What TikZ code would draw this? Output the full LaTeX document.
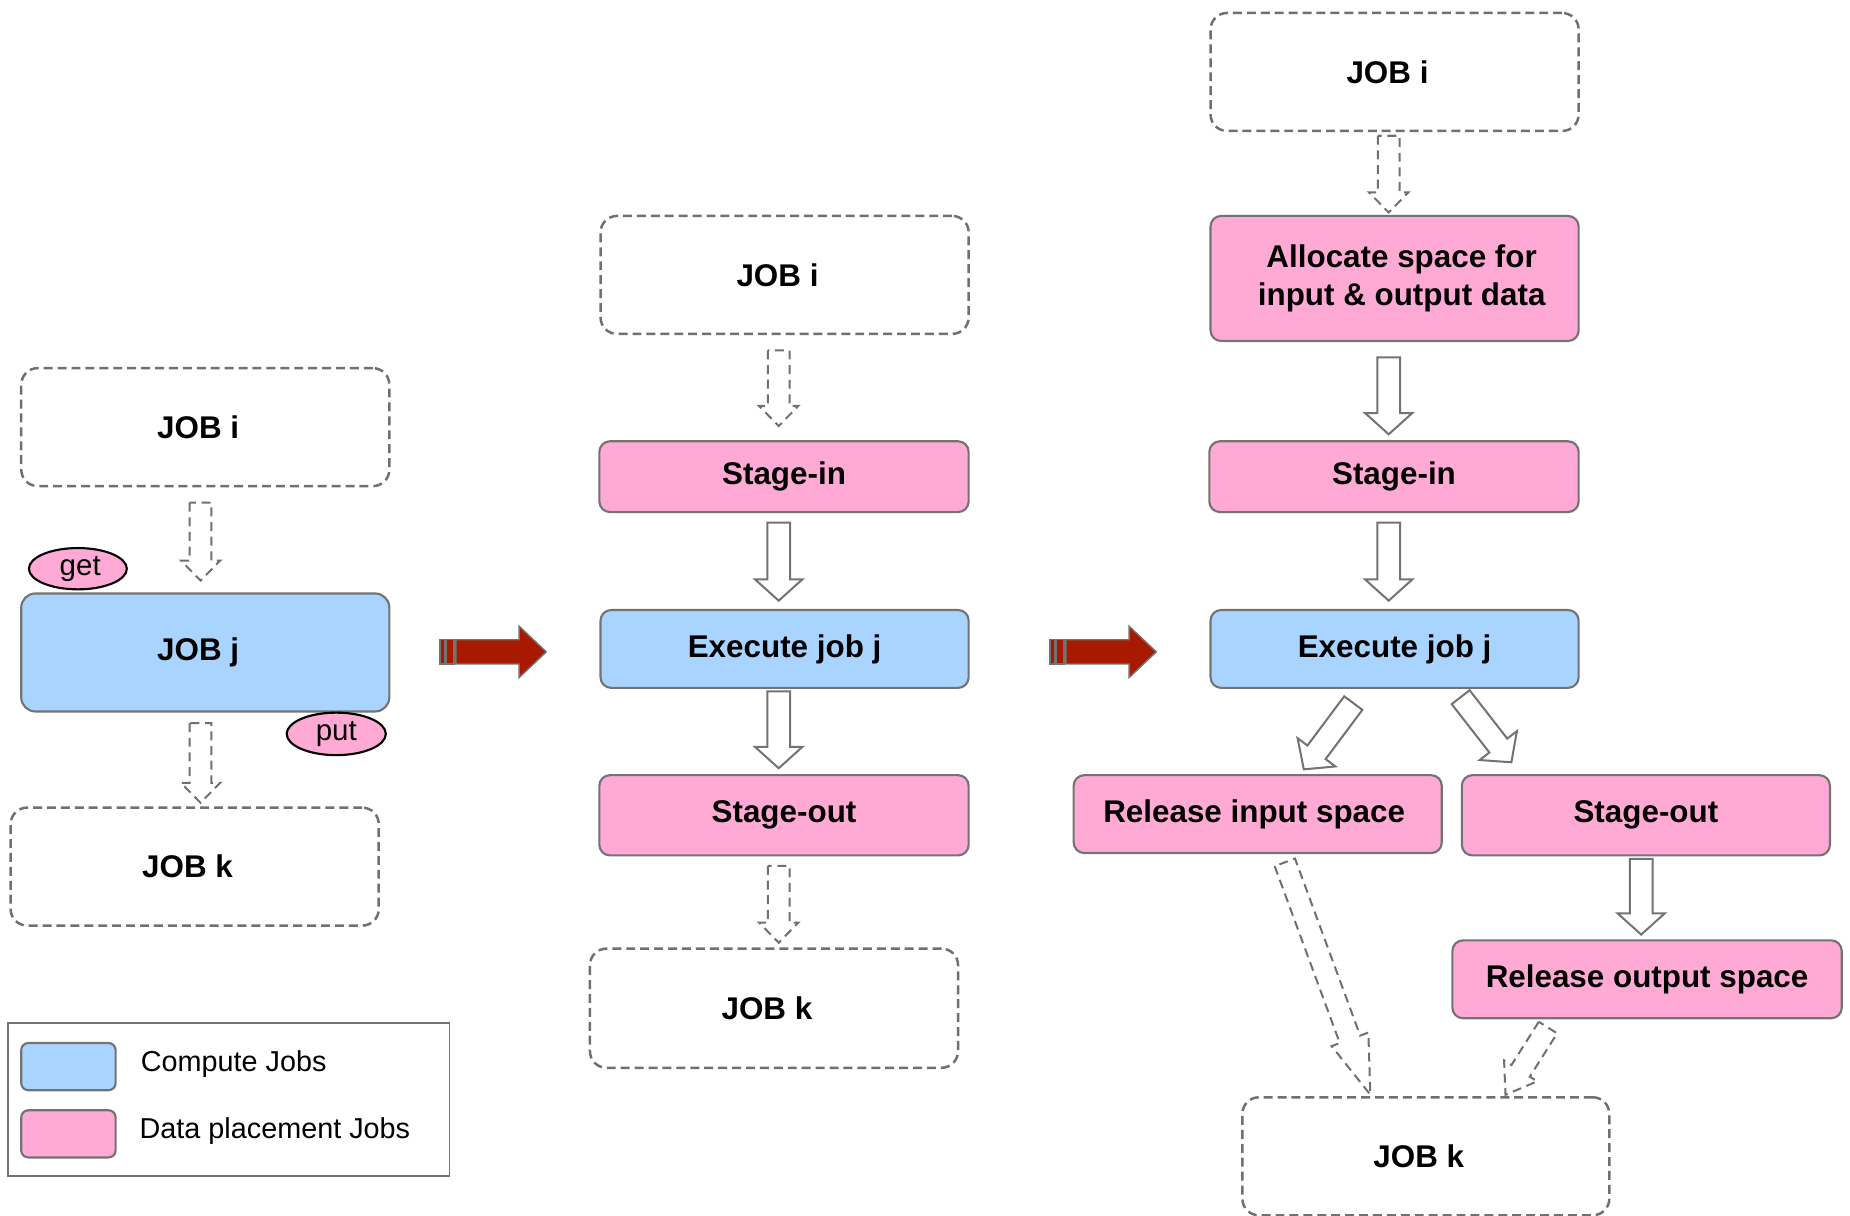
\documentclass[tikz,border=0pt]{standalone}
\usepackage{fontspec}
\setmainfont{Liberation Sans}
\usetikzlibrary{calc,shapes.geometric}

\definecolor{cblue}{HTML}{A9D4FF}
\definecolor{dpink}{HTML}{FFAAD5}
\definecolor{bgray}{HTML}{737373}
\definecolor{dgray}{HTML}{707070}
\definecolor{arrowred}{HTML}{A81A00}

\newcommand\boxfont{\fontsize{13.3pt}{16pt}\selectfont\bfseries}
\newcommand\legfont{\fontsize{12.2pt}{14pt}\selectfont}
\newcommand\tagfont{\fontsize{12.5pt}{14pt}\selectfont}

% block arrow: #1 style, #2 tail, #3 tip, #4 half shaft, #5 half head, #6 head length
\newcommand\blockarrow[6]{%
  \draw[#1] let \p1=#2, \p2=#3,
      \n1={atan2(\y2-\y1,\x2-\x1)}, \n2={veclen(\x2-\x1,\y2-\y1)} in
    [shift={(\p1)}, rotate=\n1]
    (0pt,-#4) -- ({\n2-#6},-#4) -- ({\n2-#6},-#5) -- (\n2,0pt)
    -- ({\n2-#6},#5) -- ({\n2-#6},#4) -- (0pt,#4) -- cycle;
}
\newcommand\dasharrow[3][8.5pt]{\blockarrow{darrow}{#2}{#3}{4.6pt}{8.3pt}{#1}}
\newcommand\hollowarrow[2]{\blockarrow{harrow}{#1}{#2}{4.8pt}{10pt}{9pt}}

\tikzset{
  every node/.style={inner sep=0pt, text=black},
  jobbox/.style={draw=dgray, dash pattern=on 3.8pt off 2.1pt, line width=1.05pt,
    rounded corners=7pt, minimum width=156pt, minimum height=50pt, font=\boxfont,
    execute at begin node={\kern-6pt}},
  computebox/.style={draw=bgray, fill=cblue, line width=0.9pt,
    rounded corners=4.5pt, font=\boxfont},
  databox/.style={draw=bgray, fill=dpink, line width=0.9pt,
    rounded corners=4.5pt, font=\boxfont, align=center},
  tagoval/.style={ellipse, draw=black, fill=dpink, line width=0.9pt, font=\tagfont},
  darrow/.style={draw=dgray, dash pattern=on 3.8pt off 2.4pt, line width=0.85pt, fill=white},
  harrow/.style={draw=bgray, line width=0.85pt, fill=white},
  swatch/.style={draw=bgray, line width=0.9pt, rounded corners=3pt,
    minimum width=40pt, minimum height=20pt},
  pics/shiftarrow/.style={code={
    \filldraw[fill=arrowred, draw=bgray, line width=0.6pt]
      (13.4,-10.25) -- (67,-10.25) -- (67,-21.75) -- (90,0) -- (67,21.75)
      -- (67,10.25) -- (13.4,10.25) -- cycle;
    \filldraw[fill=arrowred, draw=bgray, line width=0.6pt] (5,-10.25) rectangle (11.8,10.25);
    \filldraw[fill=arrowred, draw=bgray, line width=0.6pt] (0,-10.25) rectangle (4.2,10.25);
  }},
}

\begin{document}
\begin{tikzpicture}[x=0.5pt, y=-0.5pt]
\useasboundingbox (0,0) rectangle (1568,1030);
\fill[white] (0,0) rectangle (1568,1030);

% ---- single job with get/put ----
\node[jobbox] (lji) at (174,362) {JOB i};
\node[computebox, rounded corners=6pt, minimum width=156pt, minimum height=50pt,
  execute at begin node={\kern-6pt}] (ljj) at (174,553) {JOB j};
\node[jobbox] (ljk) at (165,734.5) {JOB k};
\node[tagoval, minimum width=41.5pt, minimum height=17.5pt] (get) at (66,482) {\kern2pt get};
\node[tagoval, minimum width=42pt, minimum height=18pt] (put) at (285,622) {put};
\dasharrow{($(lji.south)+(-4,13)$)}{($(ljj.north)+(-4,-10)$)}
\dasharrow{($(ljj.south)+(-4,9)$)}{($(ljk.north)+(5,-3)$)}

% ---- legend ----
\node[draw=bgray, line width=0.8pt, minimum width=187pt, minimum height=65pt] (legend) at (194,932) {};
\node[swatch, fill=cblue] (swc) at (58,904) {};
\node[swatch, fill=dpink] (swd) at (58,961) {};
\node[anchor=west, font=\legfont] (lgc) at (119,902) {Compute Jobs};
\node[anchor=west, font=\legfont] (lgd) at (118,959) {Data placement Jobs};

% ---- transformation arrows ----
\pic at (373,552.5) {shiftarrow};
\pic at (890,552.5) {shiftarrow};

% ---- job with stage-in / stage-out ----
\node[jobbox] (mji) at (665,233) {JOB i};
\node[databox, minimum width=156.5pt, minimum height=30pt] (msi) at (664.5,404) {Stage-in};
\node[computebox, minimum width=156pt, minimum height=33pt] (mex) at (665,550) {Execute job j};
\node[databox, minimum width=156.5pt, minimum height=34pt] (mso) at (664.5,691) {Stage-out};
\node[jobbox, minimum height=50.5pt] (mjk) at (656,854.5) {JOB k};
\dasharrow{($(mji.south)+(-5,13)$)}{($(msi.north)+(-4.5,-12)$)}
\hollowarrow{($(msi.south)+(-4.5,8)$)}{($(mex.north)+(-5,-7)$)}
\hollowarrow{($(mex.south)+(-5,2)$)}{($(mso.north)+(-4.5,-5)$)}
\dasharrow{($(mso.south)+(-4.5,8)$)}{($(mjk.north)+(4,-4)$)}

% ---- job with space allocation and release ----
\node[jobbox] (rji) at (1182,61) {JOB i};
\node[databox, minimum width=156pt, minimum height=53pt] (ral) at (1182,236)
  {\hspace*{6pt}Allocate space for\\\hspace*{6pt}input \& output data};
\node[databox, minimum width=156.5pt, minimum height=30pt] (rsi) at (1181.5,404) {Stage-in};
\node[computebox, minimum width=156pt, minimum height=33pt] (rex) at (1182,550) {Execute job j};
\node[databox, minimum width=156pt, minimum height=33pt] (rri) at (1066,690) {\kern-3pt Release input space};
\node[databox, minimum width=156pt, minimum height=34pt] (rso) at (1395,691) {Stage-out};
\node[databox, minimum width=165pt, minimum height=33pt] (rro) at (1396,830) {Release output space};
\node[jobbox, minimum width=155.5pt] (rjk) at (1208.5,980) {JOB k};
\dasharrow{($(rji.south)+(-5,3)$)}{($(ral.north)+(-5,-2)$)}
\hollowarrow{($(ral.south)+(-5,13)$)}{($(rsi.north)+(-4.5,-5)$)}
\hollowarrow{($(rsi.south)+(-4.5,8)$)}{($(rex.north)+(-5,-7)$)}
\hollowarrow{($(rex.south)+(-35,12)$)}{($(rri.north)+(39,-4)$)}
\hollowarrow{($(rex.south)+(56,7)$)}{($(rso.north)+(-114,-10)$)}
\hollowarrow{($(rso.south)+(-4,2)$)}{($(rro.north)+(-5,-4)$)}
\dasharrow[25pt]{($(rri.south)+(23,7)$)}{($(rjk.north)+(-47,-1)$)}
\dasharrow[12pt]{($(rro.south)+(-84,7)$)}{($(rjk.north)+(67.5,-1)$)}
\end{tikzpicture}
\end{document}
